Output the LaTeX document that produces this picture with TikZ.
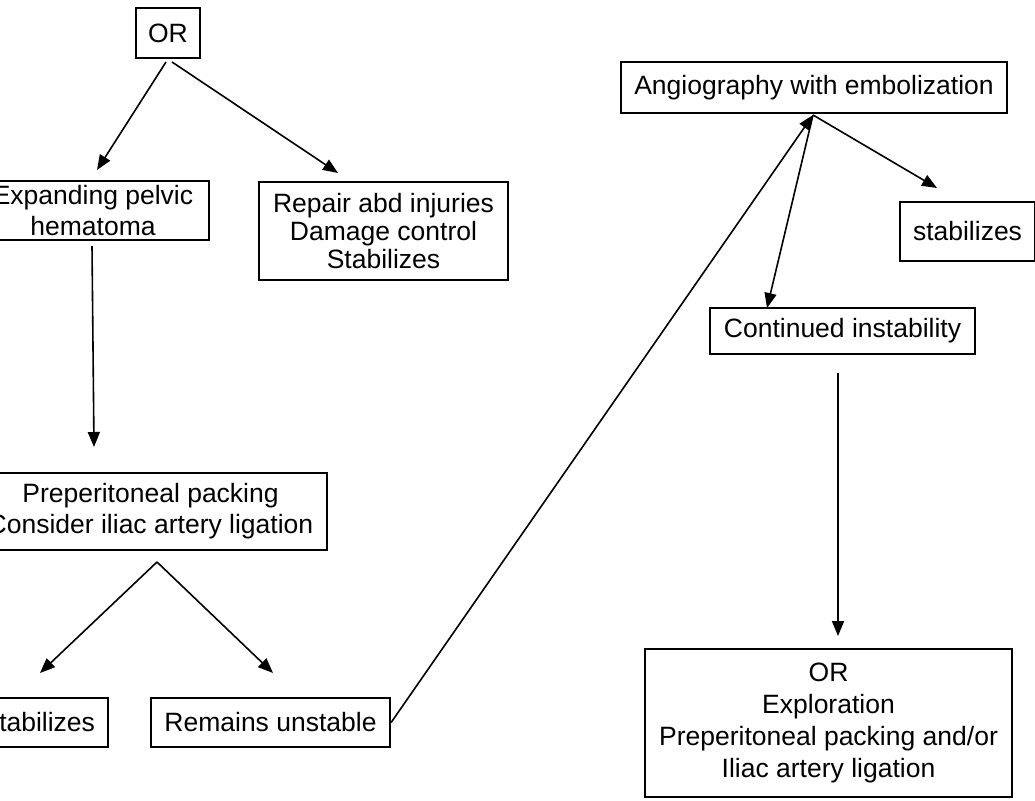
\documentclass[tikz,border=0pt]{standalone}
\usepackage{fontspec}
\setmainfont{Liberation Sans}
\usetikzlibrary{arrows.meta}
\begin{document}
\begin{tikzpicture}[x=1pt,y=-1pt,
  box/.style={draw, line width=2.2pt, inner sep=0pt, align=center,
    font={\fontsize{26.5}{31}\selectfont}},
  conn/.style={line width=1.6pt, -{Triangle[length=15pt,width=12pt]}},
  plain/.style={line width=1.6pt}]
\clip (0,0) rectangle (1035,800);
\fill[white] (0,0) rectangle (1035,800);
% nodes
\node[box, minimum width=64pt, minimum height=50pt] (or1) at (168,33) {OR};
\node[box, minimum width=232pt, minimum height=59pt] (exp) at (93,210.5) {Expanding pelvic\\hematoma};
\node[box, minimum width=249pt, minimum height=98pt, font={\fontsize{26.5}{28}\selectfont}] (rep) at (383.5,231) {Repair abd injuries\\Damage control\\Stabilizes};
\node[box, minimum width=353pt, minimum height=77pt] (pre) at (150.5,511.5) {Preperitoneal packing\\Consider iliac artery ligation};
\node[box, minimum width=135pt, minimum height=49pt] (stab1) at (40.5,722.5) {stabilizes};
\node[box, minimum width=239pt, minimum height=49pt] (rem) at (270.5,722.5) {Remains unstable};
\node[box, minimum width=386pt, minimum height=51pt] (ang) at (814,87.5) {Angiography with embolization};
\node[box, minimum width=135pt, minimum height=59pt] (stab2) at (967.5,231.5) {stabilizes};
\node[box, minimum width=265pt, minimum height=46pt] (cont) at (842.5,331) {Continued instability};
\node[box, minimum width=367pt, minimum height=148pt, font={\fontsize{26.5}{32}\selectfont}] (fin) at (828.5,723) {OR\\Exploration\\Preperitoneal packing and/or\\Iliac artery ligation};
% free ends
\coordinate (a1) at (166,62);
\coordinate (a2) at (172,62);
\coordinate (t1) at (97,170);
\coordinate (t2) at (338,173);
\coordinate (v1) at (92,246);
\coordinate (v2) at (94,447);
\coordinate (s1) at (157,562);
\coordinate (t3) at (40,673);
\coordinate (t4) at (273,673);
\coordinate (apex) at (813,115);
\coordinate (t5) at (767,308);
\coordinate (t6) at (937,188);
\coordinate (c1) at (838,373);
\coordinate (t7) at (838,636);
% connectors
\draw[conn] (a1) -- (t1);
\draw[conn] (a2) -- (t2);
\draw[conn] (v1) -- (v2);
\draw[conn] (s1) -- (t3);
\draw[conn] (s1) -- (t4);
\draw[conn] (rem.east) -- (apex);
\draw[conn] (apex) -- (t5);
\draw[conn] (apex) -- (t6);
\draw[conn] (c1) -- (t7);
\end{tikzpicture}
\end{document}
